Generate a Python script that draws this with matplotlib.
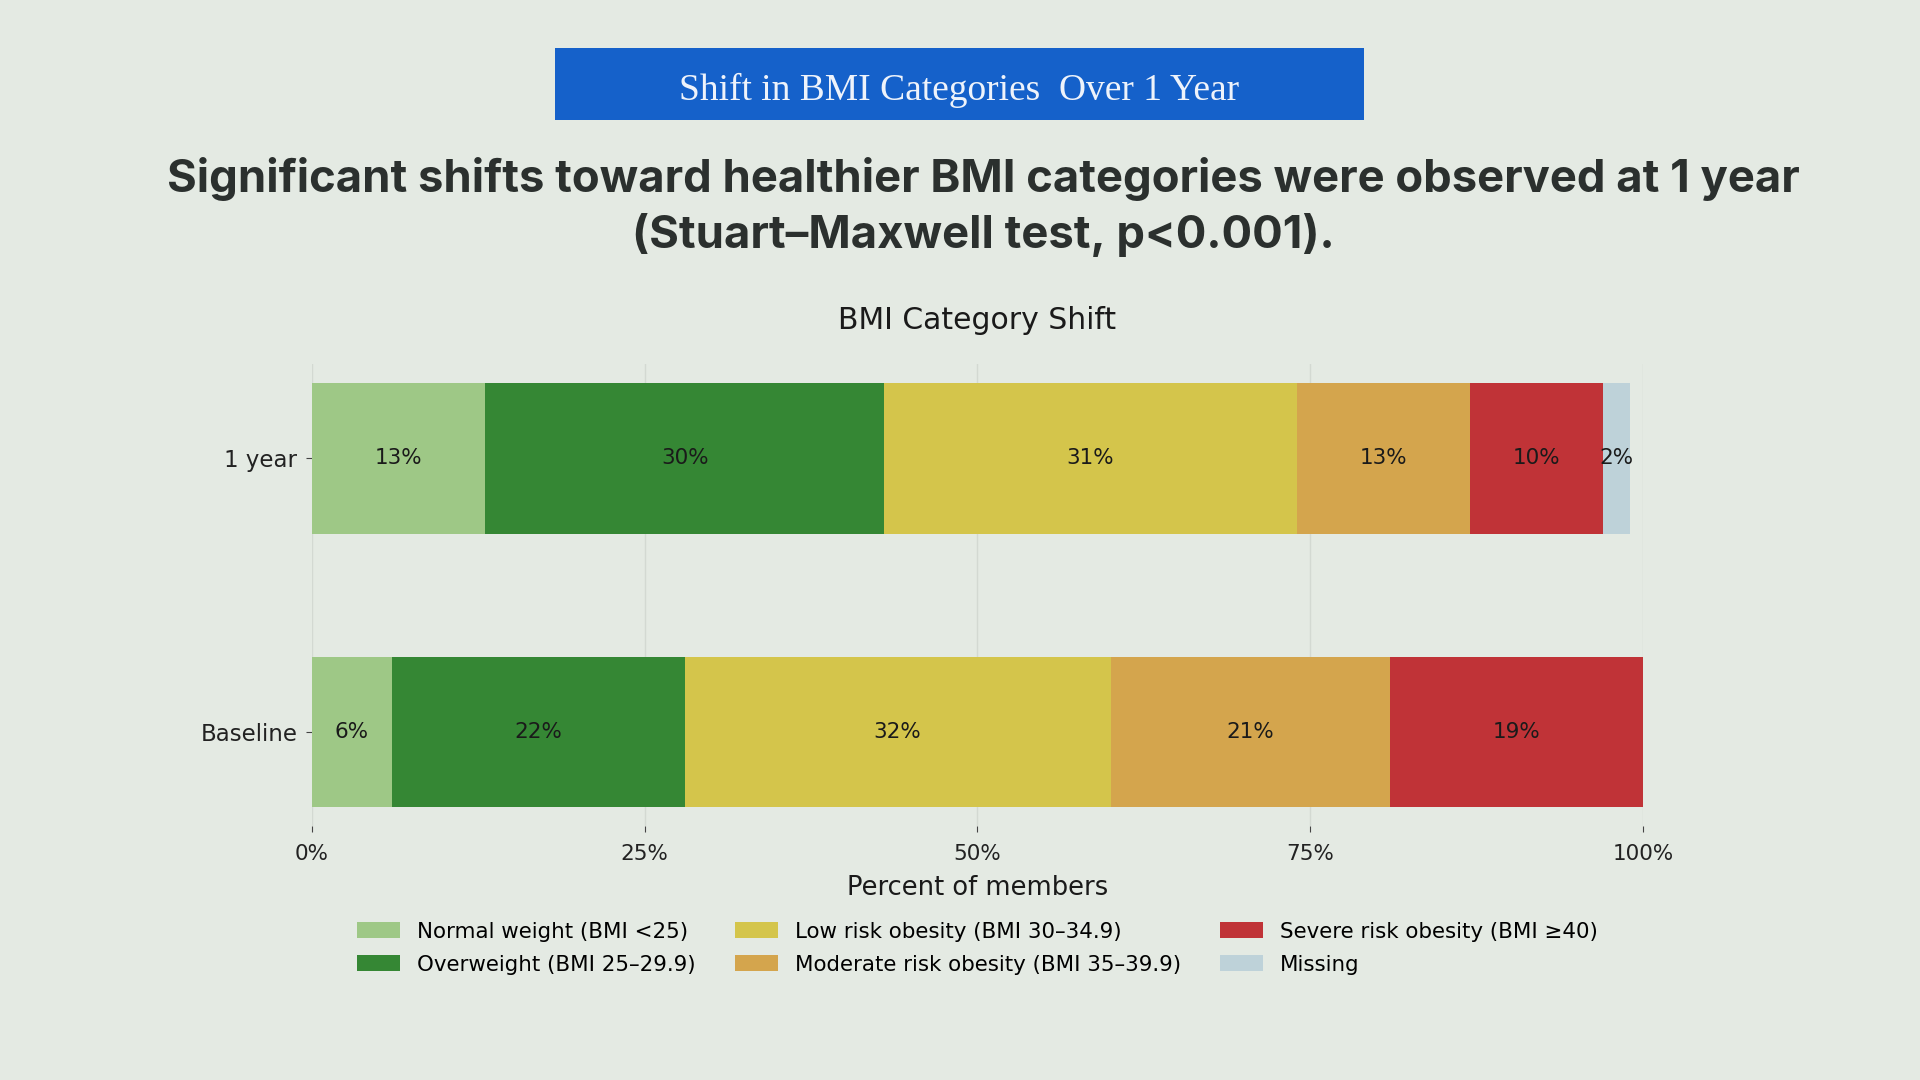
import matplotlib.pyplot as plt
from matplotlib.patches import Rectangle

# data
periods = ["Baseline", "1 year"]
categories = ["Normal weight (BMI <25)", "Overweight (BMI 25–29.9)",
              "Low risk obesity (BMI 30–34.9)", "Moderate risk obesity (BMI 35–39.9)",
              "Severe risk obesity (BMI ≥40)", "Missing"]
baseline_pct = [6, 22, 32, 21, 19, 0]
one_year_pct = [13, 30, 31, 13, 10, 2]
colors = ["#9ec886", "#358734", "#d4c54b", "#d4a54d", "#c03337", "#bed2d9"]

bg = "#e4eae3"
fig = plt.figure(figsize=(19.2, 10.8), dpi=100, facecolor=bg)

# header box
fig.patches.append(Rectangle((555 / 1920, 1 - 120 / 1080), 809 / 1920, 72 / 1080,
                             transform=fig.transFigure, facecolor="#1561ca",
                             edgecolor="none", zorder=0))
fig.text(0.4995, 1 - 90 / 1080, "Shift in BMI Categories  Over 1 Year", ha="center", va="center",
         fontsize=27, color="#eef3fb", family="Liberation Serif")

fig.text(0.512, 1 - 207 / 1080,
         "Significant shifts toward healthier BMI categories were observed at 1 year\n(Stuart–Maxwell test, p<0.001).",
         ha="center", va="center", fontsize=32.7, fontweight="bold", color="#2b302e",
         family="Inter", linespacing=1.32)

ax = fig.add_axes([0.1625, 0.235, 0.6932, 0.428])
ax.set_facecolor(bg)

rows = {"Baseline": baseline_pct, "1 year": one_year_pct}
for i, period in enumerate(periods):
    vals = rows[period]
    left = 0
    for j, v in enumerate(vals):
        if v > 0:
            ax.barh(i, v, left=left, height=0.55, color=colors[j],
                    label=categories[j] if i == 1 else None, zorder=2)
            ax.text(left + v / 2, i, f"{v}%", ha="center", va="center",
                    fontsize=15.5, color="#1a1a1a", zorder=3)
        left += v

ax.set_xlim(0, 100)
ax.set_ylim(-0.345, 1.345)
ax.set_yticks(range(len(periods)))
ax.set_yticklabels(periods, fontsize=16.5)
ax.set_xticks([0, 25, 50, 75, 100])
ax.set_xticklabels(["0%", "25%", "50%", "75%", "100%"], fontsize=15.5)
ax.tick_params(colors="#222222", length=4.5, color="#444444")
ax.tick_params(axis="y", pad=6)
ax.tick_params(axis="x", pad=8)
ax.grid(axis="x", color="#d3d9d2", linewidth=1, zorder=0)
for s in ax.spines.values():
    s.set_visible(False)

ax.set_title("BMI Category Shift", fontsize=21.5, color="#1a1a1a", pad=25)
ax.set_xlabel("Percent of members", fontsize=18.5, color="#1a1a1a", labelpad=8)

ax.legend(loc="upper center", bbox_to_anchor=(0.5, -0.165), ncol=3, frameon=False,
          fontsize=15.4, handlelength=2.0, handleheight=0.75, columnspacing=1.85,
          labelspacing=0.6)

fig.savefig("out.png", dpi=100, facecolor=bg)
